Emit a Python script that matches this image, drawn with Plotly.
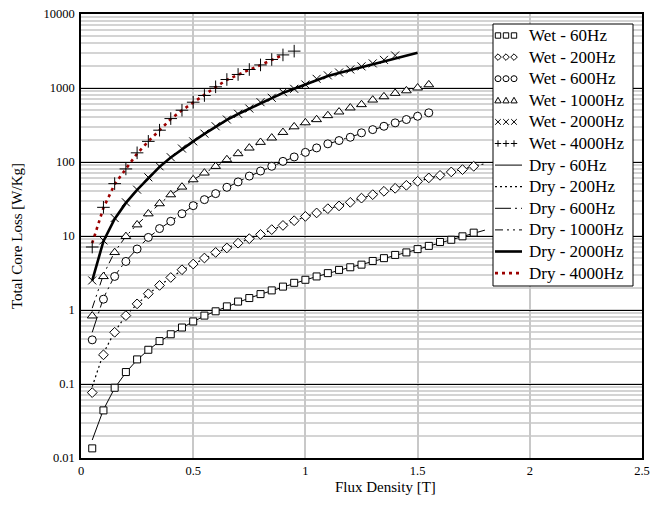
import plotly.graph_objects as go

# ---- measured data: flux density [T] vs total core loss [W/kg] ----
def steps(n, start=0.05, step=0.05):
    return [round(start + i * step, 3) for i in range(n)]

wet_60_x = steps(35)
wet_60_y = [0.0135, 0.044, 0.089, 0.145, 0.215, 0.29, 0.38, 0.47, 0.58, 0.70,
            0.84, 0.96, 1.12, 1.30, 1.45, 1.64, 1.84, 2.07, 2.33, 2.56,
            2.84, 3.15, 3.48, 3.78, 4.10, 4.60, 5.02, 5.55, 6.0, 6.65,
            7.35, 8.3, 8.9, 9.9, 11.1]

wet_200_x = steps(35)
wet_200_y = [0.0765, 0.248, 0.50, 0.84, 1.21, 1.66, 2.15, 2.75, 3.50, 4.18,
             5.04, 6.0, 6.9, 8.0, 9.2, 10.5, 12.2, 13.9, 16.1, 18.4,
             20.5, 23.4, 25.5, 28.5, 32.5, 36.2, 40.2, 44.1, 48.4, 54.8,
             61.0, 66.0, 73.4, 79.0, 87.5]

wet_600_x = steps(31)
wet_600_y = [0.395, 1.40, 2.84, 4.53, 6.67, 9.57, 12.6, 15.8, 20.0, 25.7,
             31.0, 37.4, 45.5, 53.8, 64.5, 75.5, 87.5, 102, 117, 135,
             155, 176, 195, 216, 248, 274, 304, 338, 375, 415, 462]

wet_1000_x = steps(31)
wet_1000_y = [0.834, 2.84, 6.0, 9.88, 14.2, 20.0, 27.4, 36.2, 46.0, 57.8,
              71.2, 87.5, 108, 130, 155, 185, 212, 252, 300, 340,
              375, 425, 476, 540, 598, 690, 765, 850, 920, 1005, 1110]

wet_2000_x = steps(28)
wet_2000_y = [2.51, 8.72, 17.5, 28.5, 42.3, 62.1, 87.5, 116, 152, 190,
              242, 304, 375, 448, 528, 643, 737, 878, 975, 1115,
              1330, 1480, 1620, 1780, 1960, 2150, 2400, 2750]

wet_4000_x = steps(19)
wet_4000_y = [7.1, 24.4, 51.0, 80.6, 133, 190, 269, 386, 501, 643,
              792, 1038, 1303, 1524, 1778, 2050, 2430, 2800, 3150]

dry_60_x = steps(36)
dry_60_y = [0.0175, 0.045, 0.088, 0.143, 0.212, 0.288, 0.375, 0.468, 0.575, 0.695,
            0.83, 0.965, 1.11, 1.28, 1.45, 1.63, 1.83, 2.06, 2.30, 2.55,
            2.83, 3.13, 3.45, 3.78, 4.12, 4.55, 5.0, 5.5, 6.0, 6.6,
            7.3, 8.15, 8.9, 9.8, 10.9, 12.0]

dry_200_x = steps(36)
dry_200_y = [0.092, 0.26, 0.51, 0.84, 1.2, 1.65, 2.15, 2.75, 3.45, 4.15,
             5.0, 5.9, 6.9, 8.0, 9.2, 10.6, 12.1, 13.9, 16.0, 18.2,
             20.5, 23.2, 25.8, 28.8, 32.5, 36.2, 40.2, 44.5, 49.0, 54.5,
             60.5, 66.5, 73.5, 80.0, 87.0, 95.0]

dry_600_x = steps(31)
dry_600_y = [0.50, 1.45, 2.9, 4.6, 6.7, 9.5, 12.5, 15.8, 20.0, 25.5,
             31.0, 37.5, 45.0, 54.0, 64.0, 75.0, 87.5, 101, 117, 135,
             154, 175, 196, 218, 246, 273, 304, 338, 375, 415, 460]

dry_1000_x = steps(31)
dry_1000_y = [1.06, 3.0, 6.1, 9.9, 14.3, 20.0, 27.2, 36.0, 46.0, 57.5,
              71.0, 87.0, 107, 129, 154, 183, 212, 250, 298, 338,
              376, 424, 475, 535, 600, 690, 765, 850, 920, 1005, 1100]

dry_2000_x = steps(30)
dry_2000_y = [2.5, 8.5, 17.0, 28.0, 42.0, 61.0, 86.0, 115, 150, 190,
              240, 300, 370, 445, 525, 630, 735, 860, 975, 1110,
              1290, 1450, 1600, 1750, 1930, 2110, 2300, 2500, 2750, 3000]

dry_4000_x = steps(18)
dry_4000_y = [8.0, 24.0, 50.0, 82.0, 130, 190, 270, 380, 500, 640,
              800, 1030, 1290, 1520, 1760, 2040, 2400, 2800]

x_tickvals = [0, 0.5, 1, 1.5, 2, 2.5]
x_ticktext = ["0", "0.5", "1", "1.5", "2", "2.5"]
y_tickvals = [0.01, 0.1, 1, 10, 100, 1000, 10000]
y_ticktext = ["0.01", "0.1", "1", "10", "100", "1000", "10000"]

wet_names = ["Wet - 60Hz", "Wet - 200Hz", "Wet - 600Hz",
             "Wet - 1000Hz", "Wet - 2000Hz", "Wet - 4000Hz"]
dry_names = ["Dry - 60Hz", "Dry - 200Hz", "Dry - 600Hz",
             "Dry - 1000Hz", "Dry - 2000Hz", "Dry - 4000Hz"]

# ---- styling ----
FONT = "Liberation Serif, Times New Roman, serif"
RED = "#9b0000"
dry_styles = [
    dict(color="black", width=1, dash="solid"),
    dict(color="black", width=1.2, dash="2px,3px"),
    dict(color="black", width=1, dash="16px,4px,2px,4px"),
    dict(color="black", width=1, dash="8px,4px,2px,4px,2px,4px"),
    dict(color="black", width=2.6, dash="solid"),
    dict(color=RED, width=2.6, dash="3px,4px"),
]
wet_markers = [
    dict(symbol="square", size=7),
    dict(symbol="diamond", size=7.5),
    dict(symbol="circle", size=8),
    dict(symbol="triangle-up", size=8.5),
    dict(symbol="x-thin-open", size=8),
    dict(symbol="cross-thin-open", size=9),
]

dry_series = [(dry_60_x, dry_60_y), (dry_200_x, dry_200_y), (dry_600_x, dry_600_y),
              (dry_1000_x, dry_1000_y), (dry_2000_x, dry_2000_y), (dry_4000_x, dry_4000_y)]
wet_series = [(wet_60_x, wet_60_y), (wet_200_x, wet_200_y), (wet_600_x, wet_600_y),
              (wet_1000_x, wet_1000_y), (wet_2000_x, wet_2000_y), (wet_4000_x, wet_4000_y)]

fig = go.Figure()

for (xs, ys), name, st in zip(dry_series, dry_names, dry_styles):
    fig.add_trace(go.Scatter(x=xs, y=ys, mode="lines", name=name,
                             line=dict(color=st["color"], width=st["width"], dash=st["dash"]),
                             showlegend=False))

for (xs, ys), name, mk in zip(wet_series, wet_names, wet_markers):
    filled = not mk["symbol"].endswith("-open")
    fig.add_trace(go.Scatter(
        x=xs, y=ys, mode="markers", name=name, showlegend=False,
        marker=dict(symbol=mk["symbol"], size=mk["size"],
                    color="white" if filled else "black",
                    line=dict(color="black", width=1))))

# ---- hand-drawn legend box (pixel layout inside the plot area) ----
PL, PR, PT, PB = 81, 642, 14, 458
def px(xp):
    return (xp - PL) / (PR - PL)
def py(yp):
    return (PB - yp) / (PB - PT)

shapes = []
annotations = []
BOX = (493, 24, 633, 286)
shapes.append(dict(type="rect", xref="paper", yref="paper", layer="above",
                   x0=px(BOX[0]), x1=px(BOX[2]), y0=py(BOX[3]), y1=py(BOX[1]),
                   fillcolor="white", line=dict(color="black", width=1)))

row0, drow = 35.5, 21.6
legend_paths = {
    "diamond": "M0,3.3 L3.3,0 L0,-3.3 L-3.3,0 Z",
    "triangle": "M-3.2,-2.6 L3.2,-2.6 L0,3.0 Z",
    "x": "M-2.8,-2.8 L2.8,2.8 M-2.8,2.8 L2.8,-2.8",
    "plus": "M-3.2,0 L3.2,0 M0,-3.2 L0,3.2",
}
legend_kinds = ["square", "diamond", "circle", "triangle", "x", "plus"]
LEG_FONT = dict(family=FONT, size=17, color="black")

for i, name in enumerate(wet_names):
    yc = row0 + i * drow
    for xc in (498, 506, 514):
        kind = legend_kinds[i]
        base = dict(xref="paper", yref="paper", layer="above",
                    xsizemode="pixel", ysizemode="pixel",
                    xanchor=px(xc), yanchor=py(yc),
                    line=dict(color="black", width=1))
        if kind == "square":
            shapes.append(dict(type="rect", x0=-2.7, x1=2.7, y0=-2.7, y1=2.7, **base))
        elif kind == "circle":
            shapes.append(dict(type="circle", x0=-3, x1=3, y0=-3, y1=3, **base))
        else:
            shapes.append(dict(type="path", path=legend_paths[kind], **base))
    annotations.append(dict(text=name, xref="paper", yref="paper",
                            x=px(527), y=py(yc), xanchor="left", yanchor="middle",
                            showarrow=False, font=LEG_FONT))

for j, (name, st) in enumerate(zip(dry_names, dry_styles)):
    yc = row0 + (6 + j) * drow
    shapes.append(dict(type="line", xref="paper", yref="paper", layer="above",
                       x0=px(495), x1=px(522), y0=py(yc), y1=py(yc),
                       line=dict(color=st["color"], width=st["width"], dash=st["dash"])))
    annotations.append(dict(text=name, xref="paper", yref="paper",
                            x=px(527), y=py(yc), xanchor="left", yanchor="middle",
                            showarrow=False, font=LEG_FONT))

# axis titles
annotations.append(dict(text="Flux Density [T]", xref="paper", yref="paper",
                        x=px(385), y=py(487), xanchor="center", yanchor="middle",
                        showarrow=False, font=dict(family=FONT, size=15, color="black")))
annotations.append(dict(text="Total Core Loss [W/Kg]", xref="paper", yref="paper",
                        x=px(17), y=py(236), xanchor="center", yanchor="middle",
                        textangle=-90, showarrow=False,
                        font=dict(family=FONT, size=15, color="black")))

fig.update_layout(
    width=652, height=514,
    margin=dict(l=PL, r=652 - PR, t=PT, b=514 - PB, autoexpand=False),
    paper_bgcolor="white", plot_bgcolor="white",
    font=dict(family=FONT, size=12.5, color="black"),
    showlegend=False,
    shapes=shapes, annotations=annotations,
)

fig.update_xaxes(
    range=[0, 2.5], tickvals=x_tickvals, ticktext=x_ticktext,
    showgrid=True, gridcolor="#c8c8c8", gridwidth=1.5,
    showline=True, linecolor="black", linewidth=1.5, mirror=True,
    ticks="", zeroline=False, automargin=False,
    tickfont=dict(family=FONT, size=12.5, color="black"),
)
fig.update_yaxes(
    type="log", range=[-2, 4], tickvals=y_tickvals, ticktext=y_ticktext,
    showgrid=True, gridcolor="black", gridwidth=1,
    minor=dict(showgrid=True, gridcolor="#d4d4d4", gridwidth=1.6, dtick="D1", ticks=""),
    showline=True, linecolor="black", linewidth=1.5, mirror=True,
    ticks="", ticklabelstandoff=2, zeroline=False, automargin=False,
    tickfont=dict(family=FONT, size=12.5, color="black"),
)

fig.write_html("out.html")
